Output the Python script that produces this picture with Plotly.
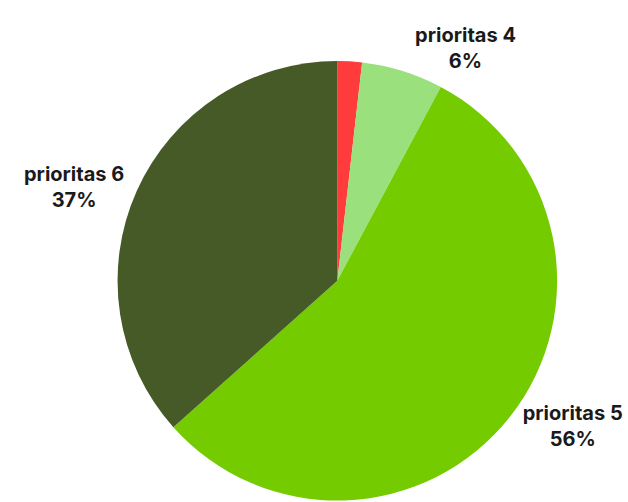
import plotly.graph_objects as go

labels = ["prioritas 3", "prioritas 4", "prioritas 5", "prioritas 6"]
values = [1.8, 6.0, 55.6, 36.6]
colors = ["#ff3b3b", "#9ae07c", "#74cb00", "#465a28"]
text_positions = ["none", "outside", "outside", "outside"]

fig = go.Figure(go.Pie(
    labels=labels,
    values=values,
    sort=False,
    direction="clockwise",
    rotation=0,
    marker=dict(colors=colors, line=dict(width=0)),
    textposition=text_positions,
    texttemplate="%{label}<br>%{percent:.0%}",
    outsidetextfont=dict(family="Inter, Roboto, sans-serif", size=20, color="#1a1a1a", weight="bold"),
    hoverinfo="label+percent",
    showlegend=False,
    domain=dict(x=[0.1927, 0.9133], y=[0.0078, 0.8867]),
))

fig.update_layout(
    width=628,
    height=512,
    margin=dict(l=0, r=0, t=0, b=0),
    paper_bgcolor="white",
    plot_bgcolor="white",
    font=dict(family="Inter, Roboto, sans-serif"),
)

fig.write_html(
    "out.html",
    config={"displayModeBar": False},
    post_script="document.body.style.margin='0';document.body.style.overflow='hidden';",
)
